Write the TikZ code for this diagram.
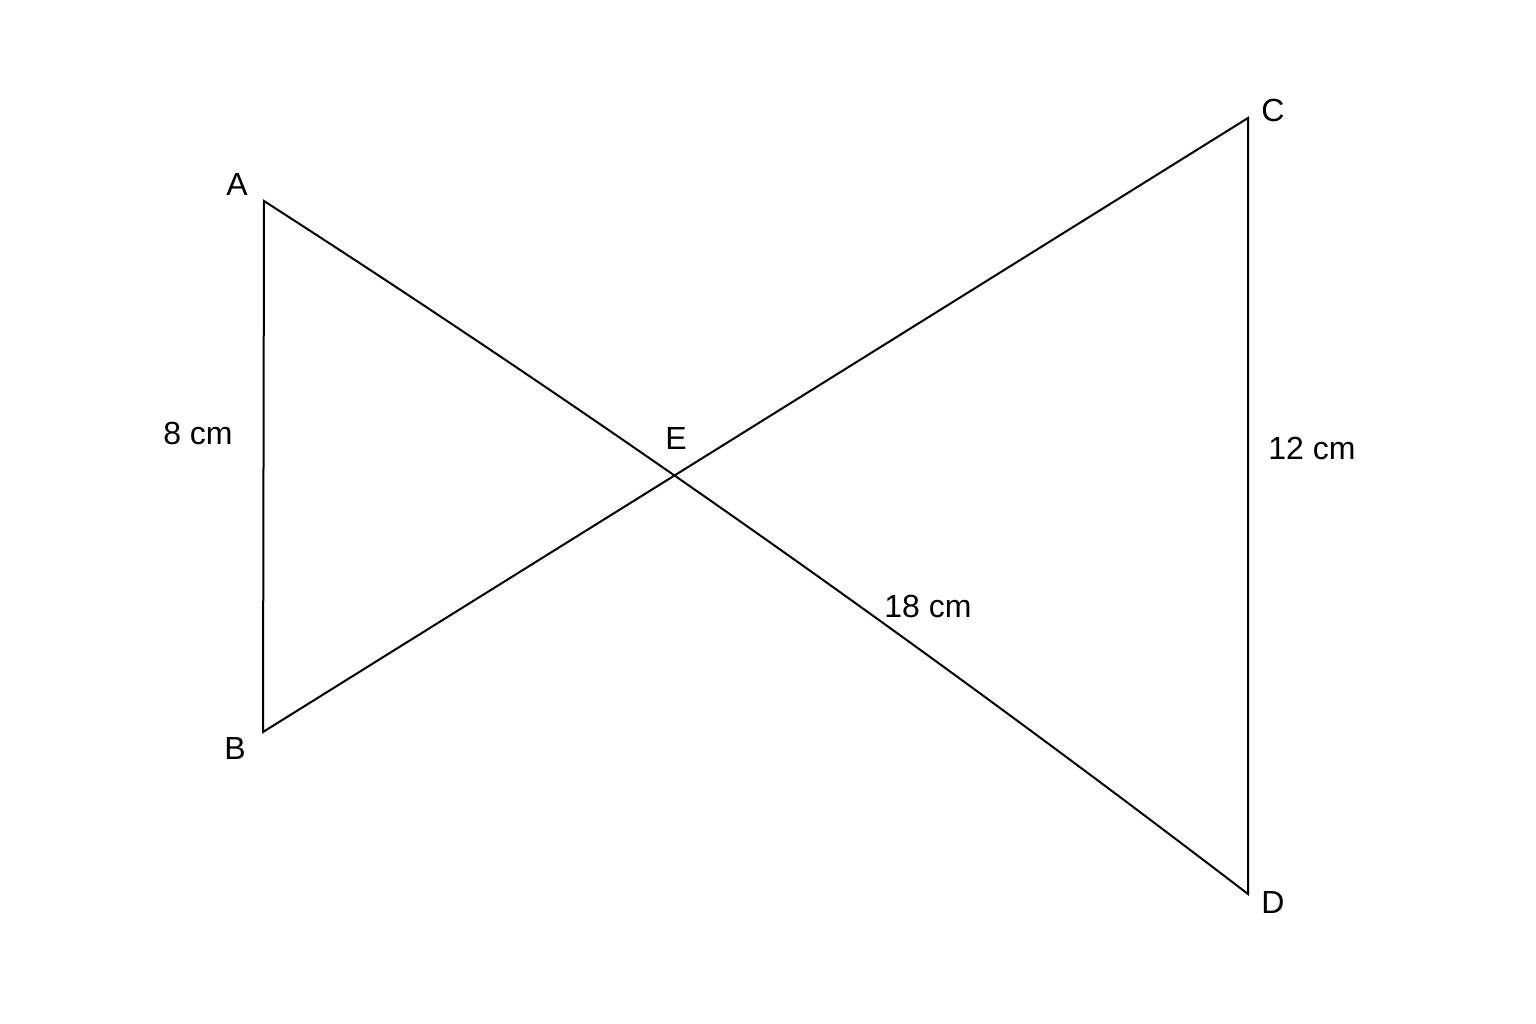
\documentclass[tikz,border=0pt]{standalone}
\usepackage{fontspec}
\setmainfont{Liberation Sans}
\begin{document}
\begin{tikzpicture}[x=1pt,y=-1pt,
  seg/.style={line width=2pt,line join=miter},
  lbl/.style={font=\fontsize{32}{38}\selectfont,inner sep=0pt,anchor=center}]
\useasboundingbox[fill=white] (0,0) rectangle (1536,1024);
\coordinate (A) at (264,201);
\coordinate (B) at (263,732);
\coordinate (C) at (1248,118);
\coordinate (D) at (1248,894);
\coordinate (c1) at (592,412);
\coordinate (c2) at (920,643);
\draw[seg] (A) .. controls (c1) and (c2) .. (D) -- (C) -- (B) -- cycle;
\node[lbl] (la) at (237,184) {A};
\node[lbl] (lb) at (235,748) {B};
\node[lbl] (lc) at (1273,110) {C};
\node[lbl] (ld) at (1273,902) {D};
\node[lbl] (le) at (676,438) {E};
\node[lbl] (l8) at (198,433) {8 cm};
\node[lbl] (l12) at (1312,448) {12 cm};
\node[lbl] (l18) at (928,606) {18 cm};
\end{tikzpicture}
\end{document}
